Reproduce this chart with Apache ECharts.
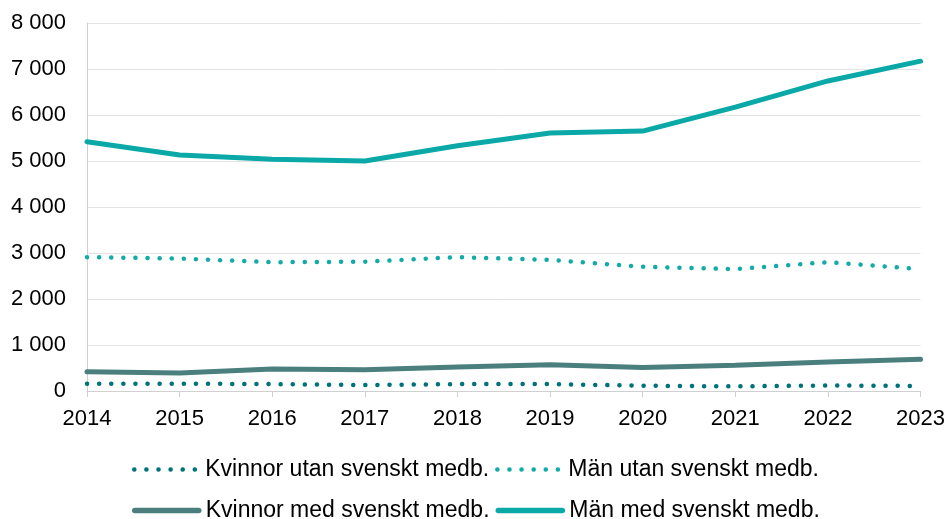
<!DOCTYPE html>
<html>
<head>
<meta charset="utf-8">
<script src="https://cdn.jsdelivr.net/npm/echarts@6/dist/echarts.min.js"></script>
<style>
  html, body { margin: 0; padding: 0; background: #fff; }
  #chart { width: 948px; height: 519px; }
</style>
</head>
<body>
<div id="chart"></div>
<script>
// data
var years = ['2014', '2015', '2016', '2017', '2018', '2019', '2020', '2021', '2022', '2023'];
var kvinnorUtan = [160, 160, 150, 130, 150, 150, 115, 100, 120, 110];
var manUtan = [2910, 2880, 2800, 2810, 2910, 2850, 2700, 2650, 2800, 2650];
var kvinnorMed = [420, 390, 480, 460, 520, 570, 510, 560, 630, 690];
var manMed = [5420, 5130, 5040, 5000, 5330, 5610, 5650, 6170, 6740, 7170];
var yTicks = { min: 0, max: 8000, step: 1000 };

var font = 'Liberation Sans, Arial, sans-serif';
var chart = echarts.init(document.getElementById('chart'));

var colors = {
  kvUtan: '#00737A',
  manUtan: '#12ABA8',
  kvMed: '#4A7F7E',
  manMed: '#0AA9A8'
};
var dotDash = [0.1, 12];

function fmt(v) {
  return String(v).replace(/\B(?=(\d{3})+(?!\d))/g, ' ');
}

function dotted(name, data, color) {
  return {
    name: name, type: 'line', data: data,
    symbol: 'none', smooth: false,
    lineStyle: { color: color, width: 4.5, type: dotDash, cap: 'round' },
    itemStyle: { color: color }
  };
}
function solid(name, data, color) {
  return {
    name: name, type: 'line', data: data,
    symbol: 'none',
    lineStyle: { color: color, width: 5, cap: 'round' },
    itemStyle: { color: color }
  };
}
function legItem(name, color, isDot) {
  return {
    name: name,
    itemStyle: { opacity: 0 },
    lineStyle: isDot
      ? { color: color, width: 4.5, type: dotDash, cap: 'round' }
      : { color: color, width: 5.5, cap: 'round' }
  };
}

var legendBase = {
  left: 127,
  itemWidth: 64, itemHeight: 14, itemGap: 6,
  itemStyle: { opacity: 0 },
  textStyle: { fontFamily: font, fontSize: 23, color: '#000', padding: [0, 0, 0, 2] }
};

chart.setOption({
  animation: false,
  grid: { left: 87, right: 27, top: 23, bottom: 128 },
  legend: [
    Object.assign({}, legendBase, { top: 453, data: [
      legItem('Kvinnor utan svenskt medb.', colors.kvUtan, true),
      legItem('Män utan svenskt medb.', colors.manUtan, true)
    ] }),
    Object.assign({}, legendBase, { top: 494, data: [
      legItem('Kvinnor med svenskt medb.', colors.kvMed, false),
      legItem('Män med svenskt medb.', colors.manMed, false)
    ] })
  ],
  xAxis: {
    type: 'category', data: years, boundaryGap: false,
    axisLine: { lineStyle: { color: '#D0D0D0', width: 1 } },
    axisTick: { show: true, length: 6, lineStyle: { color: '#D0D0D0' } },
    axisLabel: { fontFamily: font, fontSize: 22, color: '#000', margin: 17 }
  },
  yAxis: {
    type: 'value', min: yTicks.min, max: yTicks.max, interval: yTicks.step,
    axisLine: { show: true, lineStyle: { color: '#D0D0D0' } },
    axisTick: { show: false },
    splitLine: { lineStyle: { color: '#E3E3E3' } },
    axisLabel: { fontFamily: font, fontSize: 22, color: '#000', margin: 21, formatter: fmt }
  },
  series: [
    dotted('Kvinnor utan svenskt medb.', kvinnorUtan, colors.kvUtan),
    dotted('Män utan svenskt medb.', manUtan, colors.manUtan),
    solid('Kvinnor med svenskt medb.', kvinnorMed, colors.kvMed),
    solid('Män med svenskt medb.', manMed, colors.manMed)
  ]
});
</script>
</body>
</html>
